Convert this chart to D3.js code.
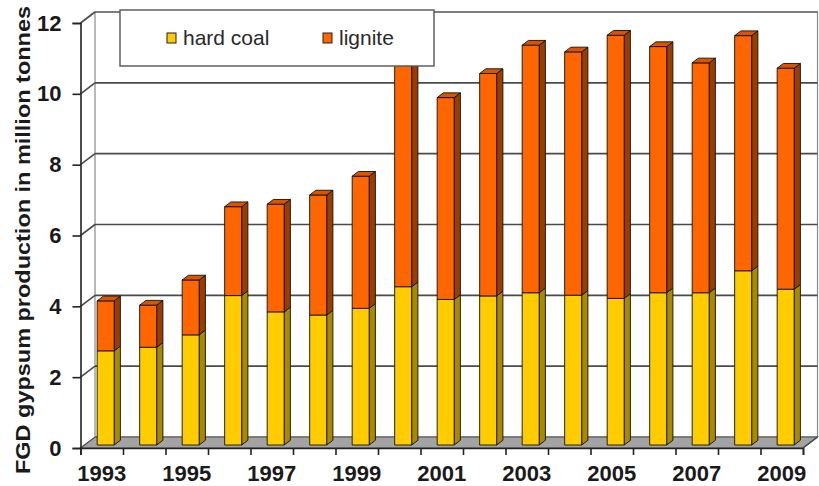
<!DOCTYPE html>
<html>
<head>
<meta charset="utf-8">
<script src="https://cdn.jsdelivr.net/npm/d3@7/dist/d3.min.js"></script>
<style>
  html, body { margin: 0; padding: 0; background: #fff; }
  svg { display: block; font-family: Arial, "Liberation Sans", sans-serif; }
</style>
</head>
<body>
<svg id="chart" width="819" height="486"></svg>
<script>
// FGD gypsum production in Germany, million tonnes
const years = [1993, 1994, 1995, 1996, 1997, 1998, 1999, 2000, 2001,
               2002, 2003, 2004, 2005, 2006, 2007, 2008, 2009];
const hardCoal = [2.66, 2.76, 3.11, 4.22, 3.76, 3.67, 3.86, 4.47, 4.11,
                  4.21, 4.30, 4.23, 4.14, 4.30, 4.30, 4.92, 4.40];
const lignite  = [1.41, 1.19, 1.55, 2.51, 3.04, 3.39, 3.73, 6.43, 5.70,
                  6.28, 6.99, 6.87, 7.43, 6.95, 6.49, 6.64, 6.24];
const seriesNames = ["hard coal", "lignite"];
const yTicks = [0, 2, 4, 6, 8, 10, 12];
const yearLabels = [1993, 1995, 1997, 1999, 2001, 2003, 2005, 2007, 2009];
const yTitle = "FGD gypsum production in million tonnes";

// colours: [front, side, top]
const palette = {
  "hard coal": ["#ffcc00", "#a88a00", "#e6b800"],
  "lignite":   ["#ff6600", "#9a3d00", "#d95500"]
};

const svg = d3.select("#chart");

// front plane of the plot and the oblique depth offset
const xL = 80.5, xR = 803, yBase = 448, yTop = 23;
const DX = 14.5, DY = -11;
const f1 = 0.27, f2 = 0.70;       // depth of the column front/back faces

const x = d3.scaleBand().domain(years).range([xL, xR])
  .paddingInner(0.6).paddingOuter(0.3);
const y = d3.scaleLinear().domain([0, 12]).range([yBase, yTop]);
const xEdge = d3.scaleLinear().domain([0, years.length]).range([xL, xR]);

const line = d3.line();
const lineCol = "#4a4a4a";

// back wall
const back = svg.append("g");
back.append("rect")
  .attr("x", xL + DX).attr("y", y(12) + DY)
  .attr("width", xR - xL).attr("height", y(0) - y(12))
  .attr("fill", "#fff").attr("stroke", "#8a8a8a").attr("stroke-width", 1.2);
back.append("path")
  .attr("d", line([[xL + DX, y(12) + DY], [xR + DX, y(12) + DY]]))
  .attr("stroke", "#6a6a6a").attr("stroke-width", 1.6).attr("fill", "none");

// gridlines on back wall and left side wall
const grid = svg.append("g").attr("fill", "none")
  .attr("stroke", lineCol).attr("stroke-width", 1.6);
yTicks.filter(v => v > 0 && v < 12).forEach(v => {
  grid.append("path").attr("d", line([[xL + DX, y(v) + DY], [xR + DX, y(v) + DY]]));
});
yTicks.filter(v => v > 0).forEach(v => {
  grid.append("path").attr("d", line([[xL, y(v)], [xL + DX, y(v) + DY]]));
});

// floor
svg.append("path")
  .attr("d", line([[xL, y(0)], [xR, y(0)], [xR + DX, y(0) + DY], [xL + DX, y(0) + DY]]) + "Z")
  .attr("fill", "#a3a3a3").attr("stroke", lineCol).attr("stroke-width", 1.2);

// stacked columns
const stacked = d3.stack().keys(seriesNames)(
  years.map((yr, i) => ({ year: yr, "hard coal": hardCoal[i], "lignite": lignite[i] }))
);
const bars = svg.append("g").attr("stroke", "#111").attr("stroke-width", 0.9)
  .attr("stroke-linejoin", "round");
years.forEach((yr, i) => {
  const x0 = x(yr), w = x.bandwidth();
  stacked.forEach((layer, li) => {
    const [v0, v1] = layer[i];
    const c = palette[layer.key];
    const yb = y(v0), yt = y(v1);
    const P = (px, py, f) => [px + DX * f, py + DY * f];
    // side face
    bars.append("path")
      .attr("d", line([P(x0 + w, yt, f1), P(x0 + w, yt, f2), P(x0 + w, yb, f2), P(x0 + w, yb, f1)]) + "Z")
      .attr("fill", c[1]);
    // front face
    bars.append("rect")
      .attr("x", x0 + DX * f1).attr("y", yt + DY * f1)
      .attr("width", w).attr("height", yb - yt)
      .attr("fill", c[0]);
    // top face of the column
    if (li === stacked.length - 1) {
      bars.append("path")
        .attr("d", line([P(x0, yt, f1), P(x0, yt, f2), P(x0 + w, yt, f2), P(x0 + w, yt, f1)]) + "Z")
        .attr("fill", c[2]);
    }
  });
});

// value axis
const yAxis = svg.append("g").attr("transform", `translate(${xL},0)`)
  .call(d3.axisLeft(y).tickValues(yTicks).tickSize(8).tickPadding(11));
yAxis.select(".domain").attr("stroke", "#222").attr("stroke-width", 1.6);
yAxis.selectAll(".tick line").attr("stroke", "#222").attr("stroke-width", 1.6);
yAxis.selectAll(".tick text")
  .attr("font-size", 22).attr("font-weight", "bold").attr("fill", "#1a1a1a")
  .attr("font-family", 'Arial, "Liberation Sans", sans-serif');

// category axis: ticks between columns
const xTickAxis = svg.append("g").attr("transform", `translate(0,${yBase})`)
  .call(d3.axisBottom(xEdge).tickValues(d3.range(years.length + 1)).tickSize(7).tickFormat(""));
xTickAxis.select(".domain").attr("stroke", "#222").attr("stroke-width", 1.6);
xTickAxis.selectAll(".tick line").attr("stroke", "#222").attr("stroke-width", 1.6);

const xLabelAxis = svg.append("g").attr("transform", `translate(0,${yBase})`)
  .call(d3.axisBottom(x).tickSize(0).tickPadding(17)
    .tickFormat(d => yearLabels.includes(d) ? String(d) : ""));
xLabelAxis.select(".domain").remove();
xLabelAxis.selectAll(".tick text")
  .attr("font-size", 22).attr("font-weight", "bold").attr("fill", "#1a1a1a")
  .attr("font-family", 'Arial, "Liberation Sans", sans-serif');

// right floor edge
svg.append("path")
  .attr("d", line([[xR, y(0)], [xR + DX, y(0) + DY]]))
  .attr("stroke", lineCol).attr("stroke-width", 1.4).attr("fill", "none");

// axis title
svg.append("text")
  .attr("transform", `translate(30,${240}) rotate(-90)`)
  .attr("text-anchor", "middle")
  .attr("font-size", 21).attr("font-weight", "bold").attr("fill", "#1a1a1a")
  .attr("textLength", 468).attr("lengthAdjust", "spacingAndGlyphs")
  .text(yTitle);

// legend
const legend = svg.append("g");
legend.append("rect")
  .attr("x", 120).attr("y", 10).attr("width", 314).attr("height", 56)
  .attr("fill", "#fff").attr("stroke", "#555").attr("stroke-width", 1.4);
const legendX = [167, 323];
seriesNames.forEach((name, i) => {
  const g = legend.append("g").attr("transform", `translate(${legendX[i]},33)`);
  g.append("rect").attr("width", 9).attr("height", 10)
    .attr("fill", palette[name][0]).attr("stroke", "#222").attr("stroke-width", 1);
  g.append("text").attr("x", 16).attr("y", 12)
    .attr("font-size", 21).attr("fill", "#2a2a2a").text(name);
});
</script>
</body>
</html>
